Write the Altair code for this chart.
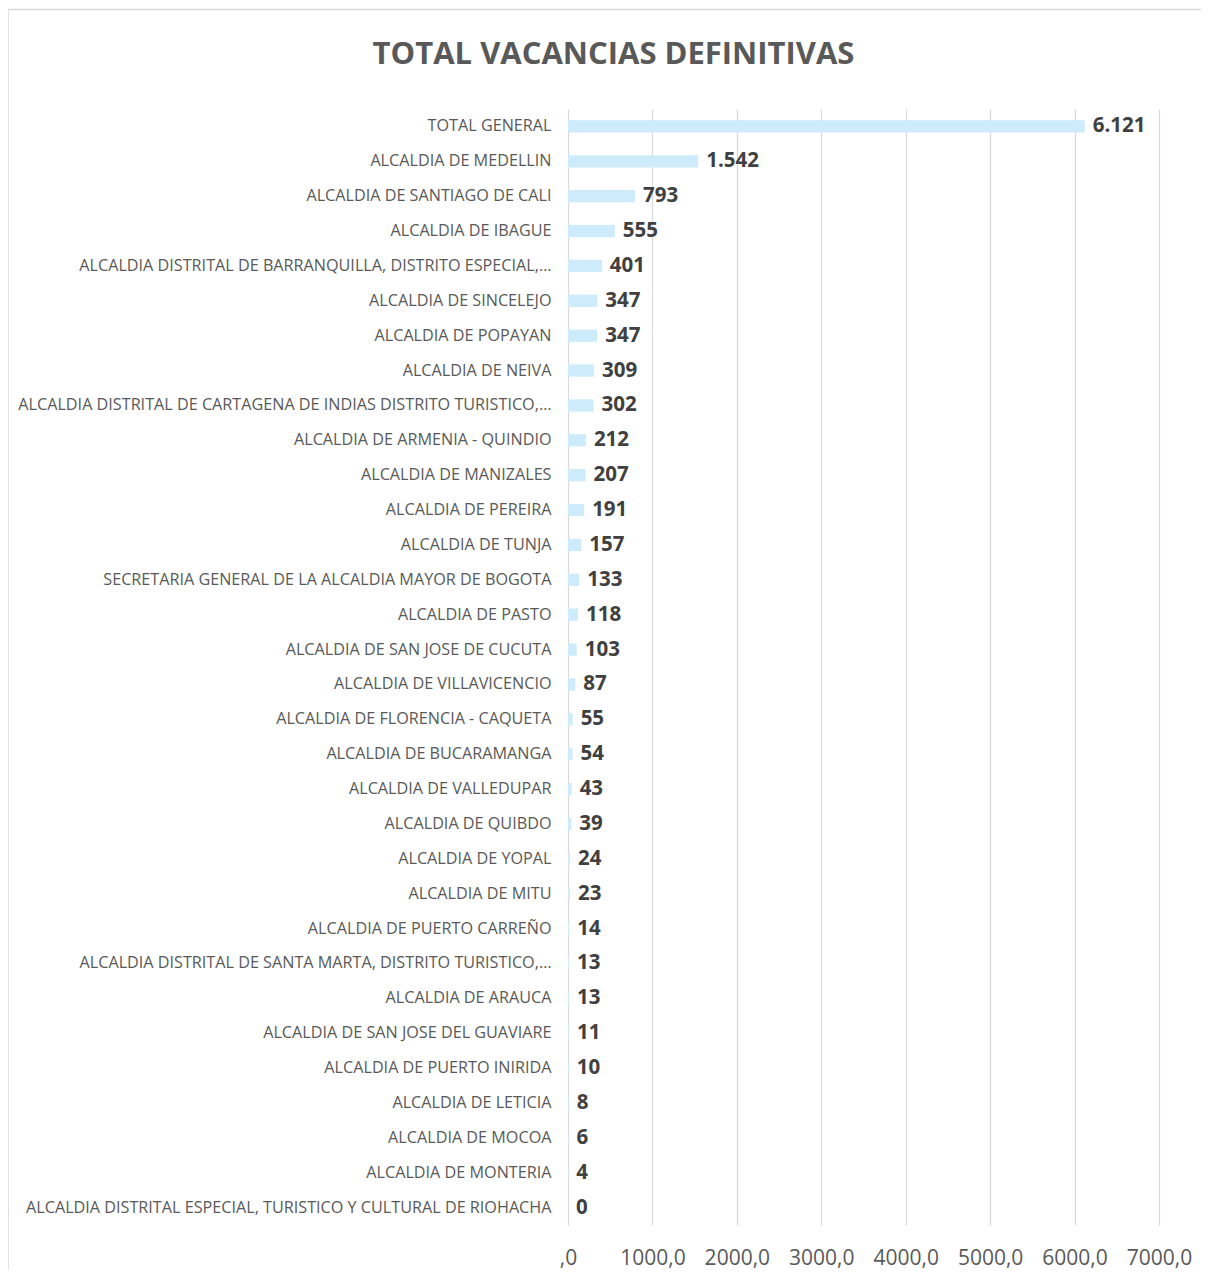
import altair as alt
import pandas as pd

categories = [
    "TOTAL GENERAL",
    "ALCALDIA DE MEDELLIN",
    "ALCALDIA DE SANTIAGO DE CALI",
    "ALCALDIA DE IBAGUE",
    "ALCALDIA DISTRITAL DE BARRANQUILLA, DISTRITO ESPECIAL,…",
    "ALCALDIA DE SINCELEJO",
    "ALCALDIA DE POPAYAN",
    "ALCALDIA DE NEIVA",
    "ALCALDIA DISTRITAL DE CARTAGENA DE INDIAS DISTRITO TURISTICO,…",
    "ALCALDIA DE ARMENIA - QUINDIO",
    "ALCALDIA DE MANIZALES",
    "ALCALDIA DE PEREIRA",
    "ALCALDIA DE TUNJA",
    "SECRETARIA GENERAL DE LA ALCALDIA MAYOR DE BOGOTA",
    "ALCALDIA DE PASTO",
    "ALCALDIA DE SAN JOSE DE CUCUTA",
    "ALCALDIA DE VILLAVICENCIO",
    "ALCALDIA DE FLORENCIA - CAQUETA",
    "ALCALDIA DE BUCARAMANGA",
    "ALCALDIA DE VALLEDUPAR",
    "ALCALDIA DE QUIBDO",
    "ALCALDIA DE YOPAL",
    "ALCALDIA DE MITU",
    "ALCALDIA DE PUERTO CARREÑO",
    "ALCALDIA DISTRITAL DE SANTA MARTA, DISTRITO TURISTICO,…",
    "ALCALDIA DE ARAUCA",
    "ALCALDIA DE SAN JOSE DEL GUAVIARE",
    "ALCALDIA DE PUERTO INIRIDA",
    "ALCALDIA DE LETICIA",
    "ALCALDIA DE MOCOA",
    "ALCALDIA DE MONTERIA",
    "ALCALDIA DISTRITAL ESPECIAL, TURISTICO Y CULTURAL DE RIOHACHA",
]
values = [6121, 1542, 793, 555, 401, 347, 347, 309, 302, 212, 207, 191, 157,
          133, 118, 103, 87, 55, 54, 43, 39, 24, 23, 14, 13, 13, 11, 10, 8, 6, 4, 0]
x_ticks = [0, 1000, 2000, 3000, 4000, 5000, 6000, 7000]
title_text = "TOTAL VACANCIAS DEFINITIVAS"

df = pd.DataFrame({"cat": categories, "val": values})

FONT = "Open Sans"

base = alt.Chart(df).encode(
    y=alt.Y("cat:N", sort=categories, title=None,
            scale=alt.Scale(paddingInner=0.65, paddingOuter=0.325),
            axis=alt.Axis(domain=False, ticks=False, labelPadding=17,
                          labelFont=FONT, labelFontSize=16.2, labelColor="#595959",
                          labelLimit=0, grid=False)),
)

bars = base.mark_bar(color="#CDEBFB").encode(
    x=alt.X("val:Q", title=None,
            scale=alt.Scale(domain=[0, 7000], nice=False),
            axis=alt.Axis(values=x_ticks, domain=False, ticks=False,
                          grid=True, gridColor="#D9D9D9", gridWidth=1.2,
                          labelExpr="datum.value == 0 ? ',0' : replace(format(datum.value, '.1f'), '.', ',')",
                          labelFont=FONT, labelFontSize=21, labelColor="#595959",
                          labelPadding=22, labelFlush=False)),
)

labels = base.transform_calculate(
    lbl="replace(format(datum.val, ','), ',', '.')"
).mark_text(align="left", baseline="middle", dx=8, font=FONT,
            fontSize=20.5, fontWeight="bold", color="#404040").encode(
    x="val:Q", text="lbl:N")

frame = alt.Chart(pd.DataFrame({"a": [0]})).mark_rect(
    fill=None, stroke="#D9D9D9", strokeWidth=1.5
).encode(x=alt.value(-560), x2=alt.value(680),
         y=alt.value(-99.5), y2=alt.value(1200))

chart = alt.layer(frame, bars, labels).properties(
    width=591, height=1116,
    title=alt.TitleParams(title_text, font=FONT, fontSize=31, fontWeight="bold",
                          color="#595959", anchor="middle", frame="group",
                          dx=-250, offset=-86, baseline="alphabetic"),
    autosize=alt.AutoSizeParams(type="none"),
    padding={"left": 560, "top": 101, "right": 42, "bottom": 45},
).configure_view(stroke=None)

chart.save("out.html", embed_options={"renderer": "svg", "actions": False})
